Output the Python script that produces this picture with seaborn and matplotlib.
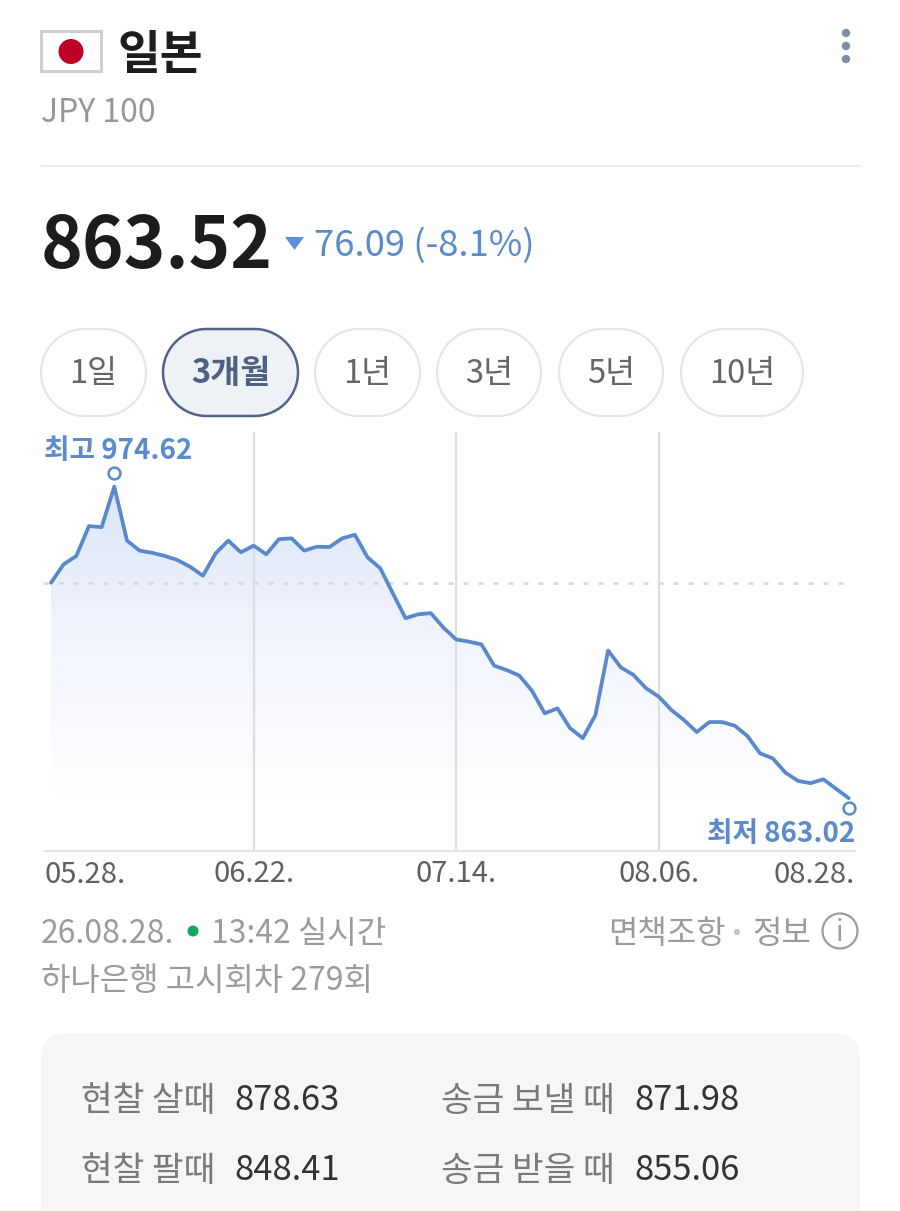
import numpy as np
import pandas as pd
import matplotlib
matplotlib.use('Agg')
import matplotlib.pyplot as plt
from matplotlib.colors import LinearSegmentedColormap
from matplotlib.patches import Circle, FancyBboxPatch, Polygon, Rectangle
from matplotlib.transforms import Affine2D
import seaborn as sns

sns.set_theme(style='white')
plt.rcParams['font.family'] = ['Noto Sans CJK KR', 'DejaVu Sans']

# JPY 100 rate
rates = [940.2, 946.8, 949.8, 960.5, 960.1, 974.62, 955.3, 951.7, 950.9, 949.8,
         948.3, 945.9, 942.7, 950.7, 955.3, 951.1, 953.5, 950.4, 955.8, 956.1,
         951.7, 953.1, 953.0, 956.1, 957.4, 949.3, 945.4, 936.4, 927.5, 928.9,
         929.3, 924.1, 919.9, 919.1, 918.1, 910.5, 908.9, 906.9, 901.4, 893.4,
         895.2, 888.1, 884.5, 892.8, 915.9, 909.9, 907.2, 902.4, 899.4, 894.6,
         891.0, 886.7, 890.3, 890.3, 889.0, 885.3, 879.1, 877.3, 872.2, 869.2,
         868.4, 869.8, 866.4, 863.02]
prev_close = 940.2  # dotted line, same level as the first point
tick_pos = [0, 16, 32, 48, 63]
tick_labels = ['05.28.', '06.22.', '07.14.', '08.06.', '08.28.']
periods = ['1일', '3개월', '1년', '3년', '5년', '10년']
period_left = [41, 163, 315, 437, 559, 681]
period_right = [146, 298, 420, 541, 663, 803]

BLUE = '#5b8bcb'
GREY = '#9b9b9b'
W, H = 900, 1211

fig = plt.figure(figsize=(W / 100, H / 100), dpi=100, facecolor='white')

# page layer, in pixels
page = fig.add_axes([0, 0, 1, 1])
page.set_xlim(0, W)
page.set_ylim(H, 0)
page.axis('off')


def label(x, y, s, size, color='#222222', weight='normal', ha='left'):
    page.text(x, y, s, fontsize=size, color=color, fontweight=weight, ha=ha, va='center')


def pill(x0, x1, y0, y1, **kw):
    # real half circles, FancyBboxPatch corners come out too square
    r = (y1 - y0) / 2
    t = np.linspace(-np.pi / 2, np.pi / 2, 40)
    right = np.c_[x1 - r + r * np.cos(t), (y0 + y1) / 2 + r * np.sin(t)]
    left = np.c_[x0 + r - r * np.cos(t[::-1]), (y0 + y1) / 2 + r * np.sin(t[::-1])]
    page.add_patch(Polygon(np.r_[right, left], closed=True, **kw))


# header
page.add_patch(Rectangle((41, 31), 60, 40, fc='white', ec='#cfcfcf', lw=2.2))
page.add_patch(Circle((71, 51.5), 12.5, fc='#bd0026', ec='none'))
label(118, 55, '일본', 33.5, '#1d1d1d', 'bold')
label(41, 113, 'JPY 100', 23, '#969696')
for yy in [33, 46, 59]:
    page.add_patch(Circle((846, yy), 4.2, fc='#7d8fa3', ec='none'))
page.plot([41, 860], [166, 166], color='#eeeeee', lw=1.6)

label(41, 247, '863.52', 51, '#1c1c1c', 'bold')
page.add_patch(Polygon([(285, 237), (304, 237), (294.5, 250)], fc='#5b90de', ec='none'))
label(314, 246, '76.09 (-8.1%)', 26.3, BLUE)

# period buttons
for name, x0, x1 in zip(periods, period_left, period_right):
    active = name == '3개월'
    pill(x0, x1, 329, 416, fc='#eef1f6' if active else 'white',
         ec='#50658a' if active else '#e6e6e6', lw=1.8 if active else 1.6)
    page.text((x0 + x1) / 2, 374, name, fontsize=23.5, ha='center', va='center',
              color='#4f6180' if active else '#666666',
              fontweight='bold' if active else 'normal')

# footer text
label(41, 934, '26.08.28.', 23, GREY)
page.add_patch(Circle((193, 931), 5.5, fc='#12a860', ec='none'))
label(211, 934, '13:42 실시간', 23, GREY)
label(608, 934, '면책조항', 23, GREY)
page.add_patch(Circle((737, 932), 3, fc='#c4c4c4', ec='none'))
label(752, 934, '정보', 23, GREY)
page.add_patch(Circle((840, 931), 17.5, fc='white', ec='#9d9d9d', lw=1.6))
page.text(840, 933, 'i', fontsize=20, color='#9d9d9d', ha='center', va='center')
label(41, 981, '하나은행 고시회차 279회', 23, GREY)

# quote card
page.add_patch(FancyBboxPatch((41, 1033), 819, 240, boxstyle='round,pad=0,rounding_size=26',
                              fc='#f6f6f6', ec='none'))
label(81, 1101, '현찰 살때', 24.8, '#7a7a7a')
label(234, 1101, '878.63', 24.8, '#333333')
label(441, 1101, '송금 보낼 때', 24.8, '#7a7a7a')
label(634, 1101, '871.98', 24.8, '#333333')
label(81, 1171, '현찰 팔때', 24.8, '#7a7a7a')
label(234, 1171, '848.41', 24.8, '#333333')
label(441, 1171, '송금 받을 때', 24.8, '#7a7a7a')
label(634, 1171, '855.06', 24.8, '#333333')

# chart
ax = fig.add_axes([43 / W, 1 - 851 / H, (855 - 43) / W, (851 - 432) / H])
ax.patch.set_alpha(0)
df = pd.DataFrame({'day': np.arange(len(rates)), 'rate': rates})

fade = LinearSegmentedColormap.from_list('fade', ['#ffffff', '#f1f5fd', '#dce6f8'])
grad = ax.imshow(np.linspace(1, 0, 256).reshape(-1, 1), cmap=fade, aspect='auto',
                 extent=[0, 63, 863, 974.62], zorder=1)
area = ax.fill_between(df['day'], df['rate'], 844.1, color='none')
grad.set_clip_path(area.get_paths()[0], transform=ax.transData)
ax.set_xlim(-0.632, 63.5)
ax.set_ylim(844.1, 994.2)

for pos in tick_pos[1:4]:
    ax.axvline(pos, color='#dcdee2', lw=1.6, zorder=2)
ax.plot([-0.632, 63], [prev_close, prev_close], color='#d9dbdf', lw=2,
        dashes=(1.8, 3.6), zorder=2)
sns.lineplot(data=df, x='day', y='rate', ax=ax, color='#5a88cc', lw=2.7, zorder=3)

hi = int(np.argmax(rates))
lo = int(np.argmin(rates))
ax.plot(hi, rates[hi], 'o', ms=8.5, mfc='white', mec=BLUE, mew=1.8, zorder=4, clip_on=False,
        transform=ax.transData + Affine2D().translate(0, 13.5))
ax.plot(lo, rates[lo], 'o', ms=8.5, mfc='white', mec=BLUE, mew=1.8, zorder=4, clip_on=False,
        transform=ax.transData + Affine2D().translate(0, -10))
ax.annotate(f'최고 {rates[hi]:.2f}', (0, 1), xycoords='axes fraction', xytext=(1, -13.5),
            textcoords='offset points', fontsize=20, color=BLUE, fontweight='bold', ha='left', va='center')
ax.annotate(f'최저 {rates[lo]:.2f}', (1, 0), xycoords='axes fraction', xytext=(0, 12.5),
            textcoords='offset points', fontsize=20, color=BLUE, fontweight='bold', ha='right', va='center')

ax.set_xlabel('')
ax.set_ylabel('')
ax.set_yticks([])
ax.set_xticks(tick_pos[1:4])
ax.set_xticklabels(tick_labels[1:4], fontsize=21, color='#5f5f5f')
ax.tick_params(axis='x', length=0, pad=6)
ax.annotate(tick_labels[0], (2 / 812, 0), xycoords='axes fraction', xytext=(0, -17),
            textcoords='offset points', fontsize=21, color='#5f5f5f', ha='left', va='center')
ax.annotate(tick_labels[4], (1, 0), xycoords='axes fraction', xytext=(0, -17),
            textcoords='offset points', fontsize=21, color='#5f5f5f', ha='right', va='center')
for side in ['top', 'left', 'right']:
    ax.spines[side].set_visible(False)
ax.spines['bottom'].set_color('#e2e5ea')
ax.spines['bottom'].set_linewidth(1.6)
ax.spines['bottom'].set_bounds(-0.474, 63.5)

fig.savefig('out.png', dpi=100)
